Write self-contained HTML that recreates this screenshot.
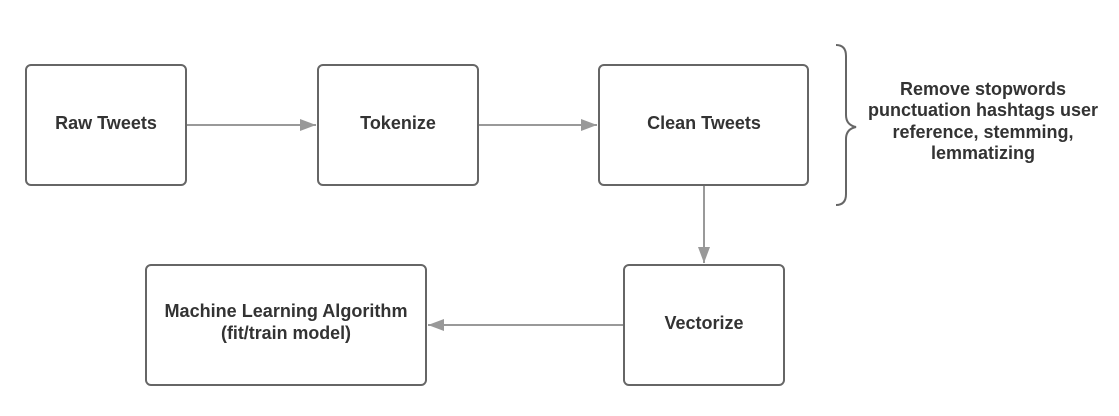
<!DOCTYPE html>
<html><head><style>body{margin:0;background:#fff}</style></head><body>
<svg width="1119" height="411" viewBox="0 0 1119 411" xmlns="http://www.w3.org/2000/svg" font-family="Liberation Sans, sans-serif" font-weight="bold" font-size="18" fill="#333">
<defs><marker id="a" markerWidth="16" markerHeight="12" refX="16" refY="6" orient="auto" markerUnits="userSpaceOnUse"><path d="M0,0 L16,6 L0,12 Z" fill="#999"/></marker></defs>
<g fill="#fff" stroke="#666" stroke-width="2">
<rect x="26" y="65" width="160" height="120" rx="5"/>
<rect x="318" y="65" width="160" height="120" rx="5"/>
<rect x="599" y="65" width="209" height="120" rx="5"/>
<rect x="624" y="265" width="160" height="120" rx="5"/>
<rect x="146" y="265" width="280" height="120" rx="5"/>
</g>
<g stroke="#999" stroke-width="2" fill="none">
<line x1="187" y1="125" x2="316" y2="125" marker-end="url(#a)"/>
<line x1="479" y1="125" x2="597" y2="125" marker-end="url(#a)"/>
<line x1="704" y1="186" x2="704" y2="263" marker-end="url(#a)"/>
<line x1="623" y1="325" x2="428" y2="325" marker-end="url(#a)"/>
</g>
<path d="M836,45 Q846,45 846,56 L846,115 Q846,125 856,127 Q846,129 846,139 L846,194 Q846,205 836,205" fill="none" stroke="#666" stroke-width="2"/>
<g text-anchor="middle">
<text x="106" y="129">Raw Tweets</text>
<text x="398" y="129">Tokenize</text>
<text x="704" y="129">Clean Tweets</text>
<text x="704" y="329">Vectorize</text>
<text x="286" y="317" textLength="243" lengthAdjust="spacingAndGlyphs">Machine Learning Algorithm</text>
<text x="286" y="339" textLength="130" lengthAdjust="spacingAndGlyphs">(fit/train model)</text>
<text x="983" y="95">Remove stopwords</text>
<text x="983" y="116">punctuation hashtags user</text>
<text x="983" y="138">reference, stemming,</text>
<text x="983" y="159">lemmatizing</text>
</g>
</svg>
</body></html>
